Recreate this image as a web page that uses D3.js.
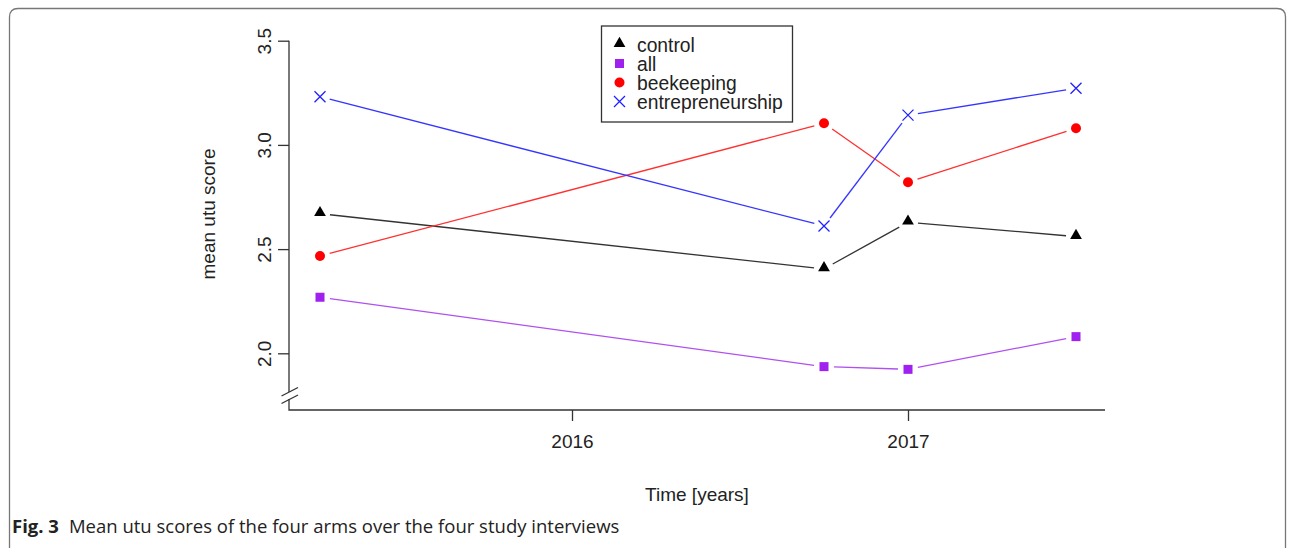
<!DOCTYPE html>
<html>
<head>
<meta charset="utf-8">
<script src="https://cdn.jsdelivr.net/npm/d3@7"></script>
<style>
  body { margin: 0; background: #fff; }
  svg text { font-family: "Liberation Sans", Arial, sans-serif; }
</style>
</head>
<body>
<script>
// Daten
var years = [2015.25, 2016.75, 2017.0, 2017.5];
var control = [2.670, 2.405, 2.629, 2.560];
var all = [2.269, 1.936, 1.923, 2.080];
var beekeeping = [2.467, 3.104, 2.821, 3.080];
var entrepreneurship = [3.231, 2.611, 3.143, 3.272];
var xTicks = [2016, 2017];
var yTicks = [2.0, 2.5, 3.0, 3.5];
var seriesNames = ["control", "all", "beekeeping", "entrepreneurship"];

var W = 1295, H = 548;

var svg = d3.select("body").append("svg")
  .attr("width", W)
  .attr("height", H);

// Rahmen der Abbildung
svg.append("path")
  .attr("d", "M9.5,548 L9.5,17 Q9.5,8.5 18,8.5 L1277,8.5 Q1285.5,8.5 1285.5,17 L1285.5,548")
  .attr("fill", "none")
  .attr("stroke", "#777")
  .attr("stroke-width", 1.3);

// Skalen
var xScale = d3.scaleLinear()
  .domain([2016, 2017])
  .range([572, 908]);

var yScale = d3.scaleLinear()
  .domain([2.0, 3.5])
  .range([353.3, 40.7]);

var left = 289, right = 1105, bottom = 410;

var g = svg.append("g");

// X Achse
var xAxis = g.append("g")
  .attr("transform", "translate(0," + bottom + ")")
  .call(d3.axisBottom(xScale).tickValues(xTicks).tickFormat(d3.format("d")).tickSize(11).tickPadding(10));
xAxis.select(".domain").remove();
xAxis.selectAll("line").attr("stroke", "#333").attr("stroke-width", 1.3);
xAxis.selectAll("text").attr("font-size", 19).attr("fill", "#222").attr("dy", "0.9em");

// Y Achse
var yAxis = g.append("g")
  .attr("transform", "translate(" + left + ",0)")
  .call(d3.axisLeft(yScale).tickValues(yTicks).tickFormat(d3.format(".1f")).tickSize(11));
yAxis.select(".domain").remove();
yAxis.selectAll("line").attr("stroke", "#333").attr("stroke-width", 1.3);
yAxis.selectAll("text")
  .attr("font-size", 19)
  .attr("fill", "#222")
  .attr("x", null).attr("dy", null)
  .attr("text-anchor", "middle")
  .attr("transform", "translate(-18,0) rotate(-90)");

// Achsenlinien mit Bruch (bty = "l")
g.append("path")
  .attr("d", "M" + left + "," + yScale(3.5) + " L" + left + "," + 392
    + " M" + left + "," + 399 + " L" + left + "," + bottom + " L" + right + "," + bottom)
  .attr("fill", "none")
  .attr("stroke", "#333")
  .attr("stroke-width", 1.3);
[[396, 387.5], [403.5, 395]].forEach(function (b) {
  g.append("line")
    .attr("x1", left - 7.5).attr("y1", b[0])
    .attr("x2", left + 9).attr("y2", b[1])
    .attr("stroke", "#333")
    .attr("stroke-width", 1.3);
});

// Achsentitel
g.append("text")
  .attr("x", (left + right) / 2).attr("y", 501)
  .attr("text-anchor", "middle")
  .attr("font-size", 19).attr("fill", "#222")
  .text("Time [years]");
g.append("text")
  .attr("transform", "translate(215,214) rotate(-90)")
  .attr("text-anchor", "middle")
  .attr("font-size", 19).attr("fill", "#222")
  .text("mean utu score");

// Serien
var colors = { control: "#000", all: "#a020f0", beekeeping: "#ff0000", entrepreneurship: "#2020ff" };
var lineColors = { control: "#333", all: "#b050f0", beekeeping: "#ff3030", entrepreneurship: "#3535ff" };
var data = { control: control, all: all, beekeeping: beekeeping, entrepreneurship: entrepreneurship };

function marker(sel, name, x, y) {
  var c = colors[name];
  if (name === "control") {
    sel.append("path").attr("d", d3.symbol(d3.symbolTriangle, 60)()).attr("transform", "translate(" + x + "," + (y - 1) + ")").attr("fill", c);
  } else if (name === "all") {
    sel.append("rect").attr("x", x - 4.5).attr("y", y - 4.5).attr("width", 9).attr("height", 9).attr("fill", c);
  } else if (name === "beekeeping") {
    sel.append("circle").attr("cx", x).attr("cy", y).attr("r", 5).attr("fill", c);
  } else {
    sel.append("path").attr("d", "M" + (x - 5.5) + "," + (y - 5.5) + "L" + (x + 5.5) + "," + (y + 5.5) + "M" + (x - 5.5) + "," + (y + 5.5) + "L" + (x + 5.5) + "," + (y - 5.5))
      .attr("stroke", c).attr("stroke-width", 1.3);
  }
}

var gap = 10; // Lücke um die Punkte wie bei type = "b"
seriesNames.forEach(function (name) {
  var vals = data[name];
  var pts = vals.map(function (v, i) { return [xScale(years[i]), yScale(v)]; });
  for (var i = 0; i < pts.length - 1; i++) {
    var a = pts[i], b = pts[i + 1];
    var dx = b[0] - a[0], dy = b[1] - a[1], len = Math.sqrt(dx * dx + dy * dy);
    var ux = dx / len, uy = dy / len;
    g.append("line")
      .attr("x1", a[0] + ux * gap).attr("y1", a[1] + uy * gap)
      .attr("x2", b[0] - ux * gap).attr("y2", b[1] - uy * gap)
      .attr("stroke", lineColors[name])
      .attr("stroke-width", 1.3);
  }
  pts.forEach(function (p) { marker(g, name, p[0], p[1]); });
});

// Legende
var legend = g.append("g");
legend.append("rect")
  .attr("x", 601.5).attr("y", 26).attr("width", 191).attr("height", 96)
  .attr("fill", "#fff").attr("stroke", "#333").attr("stroke-width", 1.3);
seriesNames.forEach(function (name, i) {
  var ly = 44.5 + i * 19;
  marker(legend, name, 619.5, ly);
  legend.append("text")
    .attr("x", 637).attr("y", ly + 7)
    .attr("font-size", 19.3).attr("fill", "#222")
    .text(name);
});

// Bildunterschrift
var cap = svg.append("text")
  .attr("x", 12).attr("y", 533)
  .attr("font-size", 18.5)
  .attr("fill", "#222")
  .style("font-family", "'Open Sans', 'Noto Sans', sans-serif");
cap.append("tspan").attr("font-weight", "bold").text("Fig. 3");
cap.append("tspan").attr("dx", 10).text("Mean utu scores of the four arms over the four study interviews");
</script>
</body>
</html>
